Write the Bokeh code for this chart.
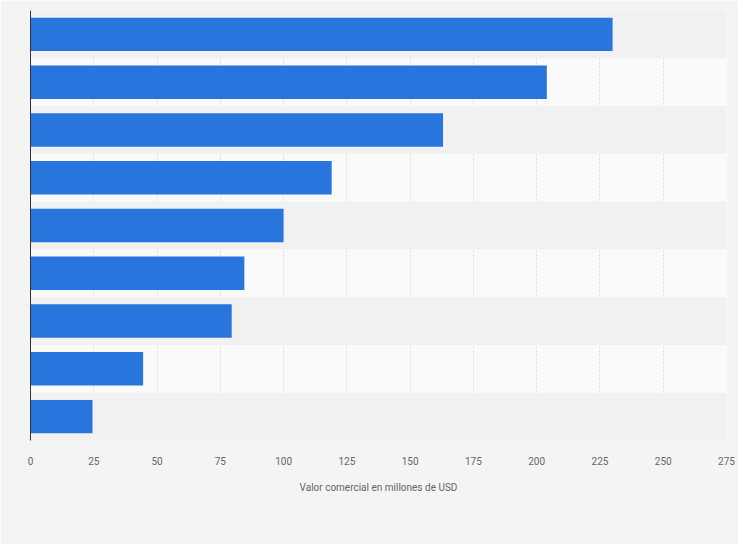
from bokeh.plotting import figure
from bokeh.embed import file_html
from bokeh.resources import INLINE
from bokeh.models import ColumnDataSource, FixedTicker, BoxAnnotation, Range1d

cats = ["1", "2", "3", "4", "5", "6", "7", "8", "9"]
values = [230, 204, 163, 119, 100, 84.5, 79.5, 44.5, 24.5]
x_ticks = [0, 25, 50, 75, 100, 125, 150, 175, 200, 225, 250, 275]

n = len(cats)
ypos = [n - i for i in range(n)]
src = ColumnDataSource(data=dict(y=ypos, v=values))

p = figure(width=738, height=544, output_backend="svg", toolbar_location=None,
           x_range=Range1d(0, 275), y_range=Range1d(0.5, n + 0.5),
           min_border_left=30, min_border_right=12, min_border_top=10,
           min_border_bottom=104)
p.background_fill_color = "#fafafa"
p.border_fill_color = "#f4f4f4"
p.outline_line_color = None

for i, y in enumerate(ypos):
    if i % 2 == 0:
        p.add_layout(BoxAnnotation(bottom=y - 0.5, top=y + 0.5,
                                   fill_color="#f1f1f1", fill_alpha=1,
                                   line_color=None, level="underlay"))

p.hbar(y="y", right="v", left=0, height=0.7, source=src,
       fill_color="#2876dd", line_color=None)

p.xaxis.ticker = FixedTicker(ticks=x_ticks)
p.xaxis.axis_line_color = None
p.xaxis.major_tick_line_color = None
p.xaxis.minor_tick_line_color = None
p.xaxis.major_label_text_color = "#666666"
p.xaxis.major_label_text_font = "Roboto"
p.xaxis.major_label_text_font_size = "7.5pt"
p.xaxis.major_label_standoff = 10
p.xaxis.axis_label = "Valor comercial en millones de USD"
p.xaxis.axis_label_text_font = "Roboto"
p.xaxis.axis_label_text_font_style = "normal"
p.xaxis.axis_label_text_font_size = "7.5pt"
p.xaxis.axis_label_text_color = "#666666"
p.xaxis.axis_label_standoff = 14

p.yaxis.ticker = FixedTicker(ticks=[])
p.yaxis.major_tick_line_color = None
p.yaxis.minor_tick_line_color = None
p.yaxis.axis_line_color = "#333333"
p.yaxis.major_label_standoff = 0
p.ygrid.grid_line_color = None
p.xgrid.ticker = FixedTicker(ticks=x_ticks)
p.xgrid.grid_line_color = "#dddddd"
p.xgrid.grid_line_dash = "2 2"

open("out.html", "w").write(file_html(p, INLINE))
